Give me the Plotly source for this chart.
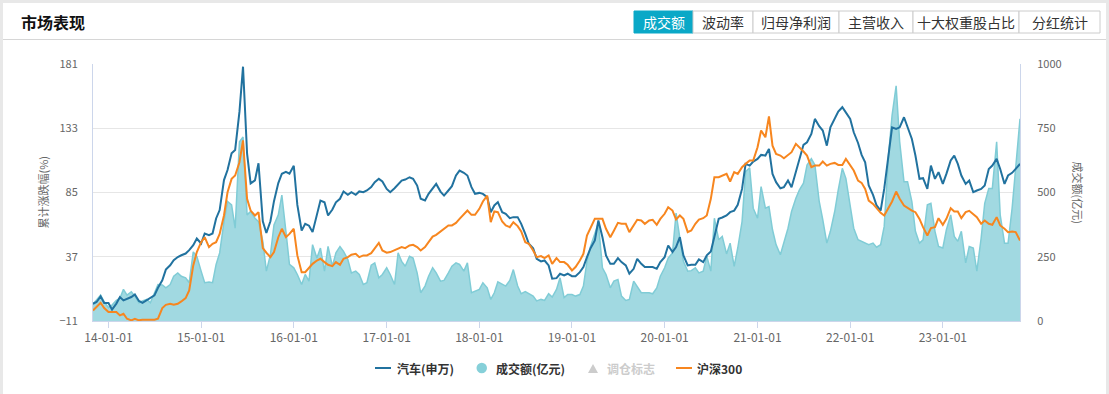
import pandas as pd
import plotly.graph_objects as go

# ---------------- data (semi-monthly, 2013-11-01 .. 2023-11-01) ----------------
dates = pd.date_range("2013-11-01", periods=241, freq="SMS")

auto_sw = [
    1.9, 3.2, 7.4, 2.5, 2.5, -2.5, 2.0, 6.9, 4.4, 5.7,
    6.9, 8.9, 4.0, 2.5, 4.4, 5.7, 8.1, 13.8, 19.4, 27.4,
    30.6, 34.4, 36.8, 38.1, 39.4, 41.9, 45.6, 50.6, 46.9, 54.4,
    53.1, 54.4, 65.6, 71.9, 94.3, 101.8, 114.3, 116.8, 145.4, 179.0,
    114.0, 91.8, 94.0, 106.8, 63.5, 54.8, 63.5, 78.5, 92.0, 99.0,
    100.4, 99.0, 105.0, 75.7, 56.5, 61.6, 60.2, 55.4, 67.8, 79.0,
    77.7, 67.8, 72.3, 77.7, 80.3, 85.8, 83.3, 85.2, 83.3, 85.8,
    85.2, 86.5, 89.0, 92.7, 95.2, 93.2, 87.7,
    85.2, 88.2, 90.7, 93.9, 94.7, 96.4, 95.2, 90.2, 80.3, 79.0,
    84.0, 87.7, 91.4, 85.7, 82.7, 86.5, 89.7, 97.7, 101.4, 99.7,
    97.7, 89.0, 84.0, 84.7, 84.0, 81.5, 70.3, 75.3, 77.8, 70.3,
    69.1, 65.8, 66.6, 66.6, 61.6, 54.1, 46.7, 43.4, 35.5, 33.5,
    34.2, 30.5, 20.6, 21.0, 24.3, 23.0, 24.3, 22.5, 22.5, 25.5,
    29.3, 36.7, 43.4, 49.2, 64.1, 51.6, 38.0, 31.7, 31.7, 36.0,
    33.0, 30.5, 24.3, 28.0, 35.5, 31.7, 29.3, 29.3, 29.3, 28.0,
    33.0, 36.7, 45.4, 40.5, 44.2, 51.6, 38.0, 30.5, 31.0, 31.0, 35.0,
    33.0, 38.0, 41.0, 52.9, 65.3, 66.3, 67.8, 70.3, 71.5, 75.8,
    87.7, 106.4, 105.1, 108.1, 110.1, 113.1, 112.6, 117.6, 98.9, 92.7,
    88.2, 89.0, 93.9, 89.0, 100.2, 111.4, 120.6, 122.5, 128.8, 140.0,
    134.5, 131.3, 120.0, 133.7, 139.5, 145.4, 148.7, 144.9, 140.0, 130.0,
    122.0, 113.1, 107.6, 90.2, 83.2, 75.3, 71.5, 87.7, 115.1, 133.7,
    132.5, 133.7, 141.2, 133.7, 125.0, 112.6, 95.2, 95.7, 87.7, 105.1,
    95.2, 100.2, 91.4, 98.9, 108.9, 112.6, 106.4, 97.7, 91.4, 93.9,
    85.2, 86.5, 87.7, 90.2, 102.6, 105.1, 110.1, 102.6, 91.4, 97.7,
    99.7, 102.6, 106.4,
]

hs300 = [
    -3.1, -0.6, 2.6, -1.3, -4.3, -4.3, -4.3, -6.8, -5.6, -9.3,
    -10.5, -9.3, -10.5, -10.0, -10.0, -10.5, -10.0, -9.3, -1.3, 1.1,
    1.9, 1.1, 1.9, 3.6, 6.1, 11.8, 30.5, 40.5, 47.9, 51.6,
    44.2, 46.7, 47.9, 54.1, 67.8, 85.2, 95.2, 97.7, 107.6, 124.0,
    80.3, 71.5, 67.8, 70.3, 43.4, 40.0, 36.7, 40.5, 51.6, 57.9,
    51.6, 54.1, 57.9, 38.0, 25.5, 25.5, 28.5, 31.7, 34.2, 35.5,
    33.0, 31.0, 30.0, 33.0, 31.0, 35.5, 36.7, 38.5, 39.2, 36.7,
    38.0, 38.0, 39.7, 43.0, 47.4, 41.7, 40.0,
    40.5, 41.7, 43.0, 44.2, 43.4, 45.4, 45.9, 44.2, 41.7, 44.2,
    47.9, 52.1, 53.4, 55.9, 58.4, 60.4, 60.4, 62.3, 65.3, 68.3,
    71.5, 68.3, 68.3, 72.8, 78.3, 82.7, 62.8, 70.8, 70.3, 63.3,
    60.4, 59.1, 62.8, 59.9, 55.9, 47.9, 46.7, 41.7, 36.7, 37.5,
    36.0, 38.0, 31.7, 36.0, 33.0, 33.0, 31.0, 26.8, 29.3, 34.2,
    39.2, 52.9, 58.4, 65.3, 65.3, 65.3, 57.9, 51.6, 56.5, 62.3,
    61.6, 61.6, 55.4, 60.4, 64.6, 64.1, 61.6, 64.1, 64.6, 60.9,
    65.3, 69.1, 74.0, 71.5, 64.8, 67.8, 65.3, 55.4, 56.6, 61.6, 64.8,
    65.8, 67.8, 80.3, 96.4, 96.4, 97.7, 98.9, 93.2, 100.2, 98.9,
    103.9, 106.4, 108.9, 108.9, 118.8, 131.3, 126.3, 141.9, 120.0, 113.8,
    112.6, 110.6, 113.1, 115.1, 121.3, 118.8, 115.6, 112.6, 103.9, 105.1,
    105.1, 108.1, 105.1, 106.4, 107.1, 105.6, 105.6, 110.1, 105.6, 101.4,
    93.9, 92.2, 87.7, 79.0, 76.5, 73.3, 69.8, 67.8, 74.0, 78.3,
    85.7, 80.3, 75.3, 73.3, 71.5, 70.3, 65.3, 59.1, 52.9, 58.4,
    59.1, 65.8, 60.9, 65.3, 73.3, 70.8, 70.8, 65.8, 70.3, 71.3,
    69.1, 66.6, 61.6, 64.1, 61.6, 60.9, 66.6, 60.4, 57.9, 55.4,
    55.9, 55.4, 49.2,
]

turnover = [
    65, 80, 101, 75, 52, 62, 80, 88, 123, 101,
    114, 97, 71, 78, 84, 71, 106, 142, 140, 129,
    142, 174, 187, 174, 168, 149, 269, 252, 194, 149,
    152, 149, 220, 265, 387, 465, 452, 361, 697, 716,
    413, 426, 400, 387, 310, 194, 258, 374, 413, 490,
    349, 220, 207, 181, 142, 181, 155, 297, 245, 284,
    194, 290, 213, 265, 290, 271, 239, 187, 194, 181,
    142, 149, 217, 226, 168, 181, 207,
    181, 142, 265, 232, 213, 252, 245, 187, 110, 136,
    174, 207, 187, 155, 158, 187, 213, 226, 220, 194,
    226, 110, 116, 123, 149, 129, 84, 110, 152, 142,
    136, 158, 200, 136, 106, 114, 106, 97, 78, 84,
    80, 106, 93, 123, 168, 91, 103, 103, 97, 103,
    136, 232, 290, 336, 381, 207, 181, 129, 155, 161,
    97, 80, 84, 155, 136, 110, 110, 110, 106, 129,
    174, 207, 245, 265, 420, 330, 232, 194, 196, 207, 187,
    194, 252, 194, 400, 316, 329, 261, 303, 213, 284,
    387, 581, 596, 439, 400, 523, 439, 445, 355, 297,
    258, 310, 361, 426, 478, 510, 536, 607, 632, 607,
    465, 394, 303, 349, 426, 510, 594, 555, 439, 361,
    316, 310, 303, 297, 303, 287, 297, 368, 645, 800,
    915, 697, 542, 542, 465, 349, 303, 316, 452, 458,
    349, 290, 284, 355, 413, 329, 310, 349, 226, 290,
    284, 194, 323, 458, 516, 516, 697, 413, 303, 303,
    439, 607, 787,
]

left_ticks = [-11, 37, 85, 133, 181]
right_ticks = [0, 250, 500, 750, 1000]
x_ticks = pd.date_range("2014-01-01", periods=10, freq="YS")
tabs = ["成交额", "波动率", "归母净利润", "主营收入", "十大权重股占比", "分红统计"]
legend_names = ["汽车(申万)", "成交额(亿元)", "调仓标志", "沪深300"]

# ---------------- styling ----------------
FONT = "Noto Sans CJK SC"
BLUE = "#21729f"
ORANGE = "#f7861f"
TEAL_LINE = "#80ccd6"
TEAL_FILL = "#a1d9e1"
AXIS = "#ccd6eb"
GRID = "#e6e6e6"
TXT = "#666666"

W, H = 1109, 394
ML, MR, MT, MB = 93, 89, 64, 73
PW, PH = W - ML - MR, H - MT - MB


def X(px):
    return (px - ML) / PW


def Y(py):
    return (H - MB - py) / PH


fig = go.Figure()

fig.add_trace(go.Scatter(
    x=dates, y=turnover, yaxis="y", mode="lines", fill="tozeroy",
    line=dict(color=TEAL_LINE, width=1.5), fillcolor=TEAL_FILL,
    name=legend_names[1], showlegend=False, hoverinfo="skip"))
fig.add_trace(go.Scatter(
    x=dates, y=auto_sw, yaxis="y2", mode="lines",
    line=dict(color=BLUE, width=2), name=legend_names[0], showlegend=False))
fig.add_trace(go.Scatter(
    x=dates, y=hs300, yaxis="y2", mode="lines",
    line=dict(color=ORANGE, width=2), name=legend_names[3], showlegend=False))

shapes = []
annotations = []

# card background + header
shapes.append(dict(type="rect", xref="paper", yref="paper", layer="below",
                   x0=X(3), x1=X(1106), y0=Y(3), y1=Y(H + 5),
                   fillcolor="white", line=dict(width=0)))
shapes.append(dict(type="line", xref="paper", yref="paper",
                   x0=X(3), x1=X(1106), y0=Y(39.5), y1=Y(39.5),
                   line=dict(color="#d6d6d6", width=1)))
annotations.append(dict(text="<b>市场表现</b>", xref="paper", yref="paper",
                        x=X(19), y=Y(22), xanchor="left", yanchor="middle",
                        showarrow=False, font=dict(family=FONT, size=16, color="#111")))

# tabs
tab_edges = [634, 693, 753, 839, 913, 1019, 1100]
for k, label in enumerate(tabs):
    x0, x1 = tab_edges[k], tab_edges[k + 1]
    active = k == 0
    shapes.append(dict(type="rect", xref="paper", yref="paper",
                       x0=X(x0), x1=X(x1), y0=Y(33), y1=Y(11),
                       fillcolor="#0aa8c7" if active else "white",
                       line=dict(color="#0aa8c7" if active else "#cccccc", width=1)))
    annotations.append(dict(text=label, xref="paper", yref="paper",
                            x=X((x0 + x1) / 2), y=Y(22.5), xanchor="center", yanchor="middle",
                            showarrow=False,
                            font=dict(family=FONT, size=14, color="white" if active else "#333")))

# axis titles
annotations.append(dict(text="累计涨跌幅(%)", xref="paper", yref="paper",
                        x=X(42), y=0.5, textangle=-90, xanchor="center", yanchor="middle",
                        showarrow=False, font=dict(family=FONT, size=11, color=TXT)))
annotations.append(dict(text="成交额(亿元)", xref="paper", yref="paper",
                        x=X(1078), y=0.5, textangle=90, xanchor="center", yanchor="middle",
                        showarrow=False, font=dict(family=FONT, size=11, color=TXT)))

# manual legend
LY = 368
shapes.append(dict(type="line", xref="paper", yref="paper",
                   x0=X(375), x1=X(391), y0=Y(LY), y1=Y(LY), line=dict(color=BLUE, width=2)))
shapes.append(dict(type="circle", xref="paper", yref="paper",
                   x0=X(476.5), x1=X(487), y0=Y(LY - 5.3), y1=Y(LY + 5.3),
                   fillcolor="#86d0d9", line=dict(width=0)))
shapes.append(dict(type="path", xref="paper", yref="paper",
                   path=f"M {X(588)},{Y(373)} L {X(598)},{Y(373)} L {X(593)},{Y(364)} Z",
                   fillcolor="#cccccc", line=dict(width=0)))
shapes.append(dict(type="line", xref="paper", yref="paper",
                   x0=X(676), x1=X(692), y0=Y(LY), y1=Y(LY), line=dict(color=ORANGE, width=2)))
for name, px, col in [(legend_names[0], 395, "#333"), (legend_names[1], 494, "#333"),
                      (legend_names[2], 605, "#cccccc"), (legend_names[3], 695, "#333")]:
    annotations.append(dict(text=f"<b>{name}</b>", xref="paper", yref="paper",
                            x=X(px), y=Y(LY), xanchor="left", yanchor="middle",
                            showarrow=False, font=dict(family=FONT, size=12, color=col)))

fig.update_layout(
    width=W, height=H, autosize=False,
    margin=dict(l=ML, r=MR, t=MT, b=MB, pad=0),
    paper_bgcolor="#e8e8e8", plot_bgcolor="white",
    font=dict(family=FONT, size=11, color=TXT),
    showlegend=False,
    xaxis=dict(type="date", range=[dates[0], dates[-1]],
               tickvals=x_ticks, tickformat="%y-%m-%d",
               ticks="outside", ticklen=6, tickcolor=AXIS,
               showline=True, linecolor=AXIS, linewidth=1,
               showgrid=False, zeroline=False,
               tickfont=dict(family=FONT, size=12, color=TXT)),
    yaxis=dict(range=[0, 1000], side="right", tickvals=right_ticks,
               showgrid=True, gridcolor=GRID, zeroline=False,
               showline=True, linecolor=AXIS, ticks="",
               ticklabelstandoff=14,
               tickfont=dict(family=FONT, size=11, color=TXT)),
    yaxis2=dict(range=[-11, 181], side="left", overlaying="y", tickvals=left_ticks,
                showgrid=False, zeroline=False,
                showline=True, linecolor=AXIS, ticks="",
                ticklabelstandoff=12,
                tickfont=dict(family=FONT, size=11, color=TXT)),
    shapes=shapes, annotations=annotations,
)

fig.write_html("out.html", config={"displayModeBar": False},
               post_script="document.body.style.margin='0';document.body.style.overflow='hidden';")
